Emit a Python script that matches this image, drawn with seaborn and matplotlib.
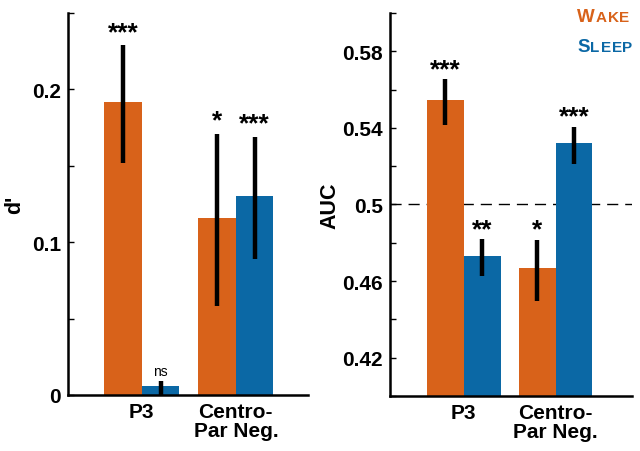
"""Wake vs sleep decoding: d' and AUC bar panels."""

import matplotlib

matplotlib.use("Agg")
import matplotlib.pyplot as plt
import pandas as pd
import seaborn as sns
from matplotlib.offsetbox import AnchoredOffsetbox, HPacker, TextArea, VPacker

WAKE_COLOR = "#D8621A"
SLEEP_COLOR = "#0B68A5"

components = ["P3", "Centro-\nPar Neg."]
states = ["Wake", "Sleep"]

# d' per component (wake, sleep) with error bar limits
dprime_wake = [0.192, 0.116]
dprime_sleep = [0.0057, 0.1305]
dprime_wake_lo = [0.152, 0.058]
dprime_wake_hi = [0.229, 0.171]
dprime_sleep_lo = [-0.003, 0.089]
dprime_sleep_hi = [0.0092, 0.169]
dprime_stars_wake = ["***", "*"]
dprime_stars_sleep = ["ns", "***"]

# AUC per component
auc_wake = [0.5545, 0.4666]
auc_sleep = [0.4732, 0.5319]
auc_wake_lo = [0.5413, 0.4495]
auc_wake_hi = [0.5653, 0.4814]
auc_sleep_lo = [0.4624, 0.5213]
auc_sleep_hi = [0.4817, 0.5404]
auc_stars_wake = ["***", "*"]
auc_stars_sleep = ["**", "***"]

FONT = "Liberation Sans"


def build_frame(wake, sleep, wake_lo, wake_hi, sleep_lo, sleep_hi):
    rows = []
    for i, comp in enumerate(components):
        rows.append({"component": comp, "state": "Wake", "value": wake[i],
                     "lo": wake_lo[i], "hi": wake_hi[i]})
        rows.append({"component": comp, "state": "Sleep", "value": sleep[i],
                     "lo": sleep_lo[i], "hi": sleep_hi[i]})
    return pd.DataFrame(rows)


def draw_panel(ax, data, stars_wake, stars_sleep, ylim, ticks, labels, ylabel, xlim,
               star_pad, label_x):
    sns.barplot(data=data, x="component", y="value", hue="state", order=components,
                hue_order=states, palette=[WAKE_COLOR, SLEEP_COLOR], errorbar=None,
                width=0.8, saturation=1, legend=False, ax=ax, linewidth=0)

    # bars come out hue-major: wake bars first, then sleep bars
    bars = ax.patches[: len(data)]
    ordered = data.sort_values("state", key=lambda s: s.map({"Wake": 0, "Sleep": 1}), kind="stable")
    stars = stars_wake + stars_sleep
    for bar, (_, row), star in zip(bars, ordered.iterrows(), stars):
        cx = bar.get_x() + bar.get_width() / 2
        ax.plot([cx, cx], [row["lo"], row["hi"]], color="black", lw=3.2,
                solid_capstyle="butt", zorder=3, clip_on=True)
        if star == "ns":
            ax.text(cx, row["hi"] + abs(star_pad) * 0.8 + 0.0015, star, ha="center", va="bottom",
                    fontsize=10, color="black", family=FONT)
        else:
            ax.text(cx, row["hi"] + star_pad, star, ha="center", va="bottom",
                    fontsize=19, fontweight="bold", color="black", family=FONT)

    ax.set_xlim(*xlim)
    ax.set_ylim(*ylim)
    ax.set_yticks(ticks)
    ax.set_yticklabels(labels)
    ax.set_xlabel("")
    ax.set_ylabel(ylabel, fontsize=15.5, fontweight="bold", color="black", family=FONT)
    ax.yaxis.set_label_coords(label_x, 0.5)
    ax.tick_params(axis="y", left=True, direction="in", length=4, width=1, pad=5,
                   color="black", labelcolor="black")
    ax.tick_params(axis="x", bottom=False, length=0, pad=5, labelcolor="black")
    for lab in ax.get_xticklabels() + ax.get_yticklabels():
        lab.set_fontsize(15)
        lab.set_fontweight("bold")
        lab.set_family(FONT)
    for lab in ax.get_xticklabels():
        lab.set_linespacing(1.0)
    sns.despine(ax=ax)
    for side in ["left", "bottom"]:
        ax.spines[side].set_linewidth(1.8)
        ax.spines[side].set_color("black")


def small_caps(word, color):
    props = dict(color=color, fontweight="bold", family=FONT)
    letters = [TextArea(word[0], textprops=dict(props, fontsize=13.5))]
    letters += [TextArea(ch, textprops=dict(props, fontsize=11)) for ch in word[1:].upper()]
    return HPacker(children=letters, align="baseline", pad=0, sep=0.6)


def main():
    sns.set_theme(style="white")
    plt.rcParams["font.family"] = [FONT, "DejaVu Sans"]

    fig = plt.figure(figsize=(6.4, 4.52), dpi=100)
    ax_d = fig.add_axes([0.106, 0.124, 0.375, 0.845])
    ax_auc = fig.add_axes([0.609, 0.122, 0.378, 0.847])

    dprime = build_frame(dprime_wake, dprime_sleep, dprime_wake_lo, dprime_wake_hi,
                         dprime_sleep_lo, dprime_sleep_hi)
    auc = build_frame(auc_wake, auc_sleep, auc_wake_lo, auc_wake_hi, auc_sleep_lo, auc_sleep_hi)

    draw_panel(ax_d, dprime, dprime_stars_wake, dprime_stars_sleep, (0, 0.25),
               [0, 0.05, 0.1, 0.15, 0.2, 0.25], ["0", "", "0.1", "", "0.2", ""],
               "d'", (-0.787, 1.766), 0.0008, -0.18)
    draw_panel(ax_auc, auc, auc_stars_wake, auc_stars_sleep, (0.40, 0.60),
               [0.40, 0.42, 0.44, 0.46, 0.48, 0.50, 0.52, 0.54, 0.56, 0.58, 0.60],
               ["", "0.42", "", "0.46", "", "0.5", "", "0.54", "", "0.58", ""],
               "AUC", (-0.804, 1.826), -0.0008, -0.205)
    ax_auc.axhline(0.5, color="black", lw=1, ls=(0, (8, 5)), zorder=0.5)

    # small-caps legend in the top right corner
    legend_box = VPacker(children=[small_caps("Wake", WAKE_COLOR), small_caps("Sleep", SLEEP_COLOR)],
                         align="left", pad=0, sep=9)
    anchored = AnchoredOffsetbox(loc="upper right", child=legend_box, frameon=False,
                                 bbox_to_anchor=(0.998, 0.993), bbox_transform=fig.transFigure,
                                 borderpad=0.0)
    fig.add_artist(anchored)

    fig.savefig("out.png", dpi=100)
    plt.close(fig)


if __name__ == "__main__":
    main()
